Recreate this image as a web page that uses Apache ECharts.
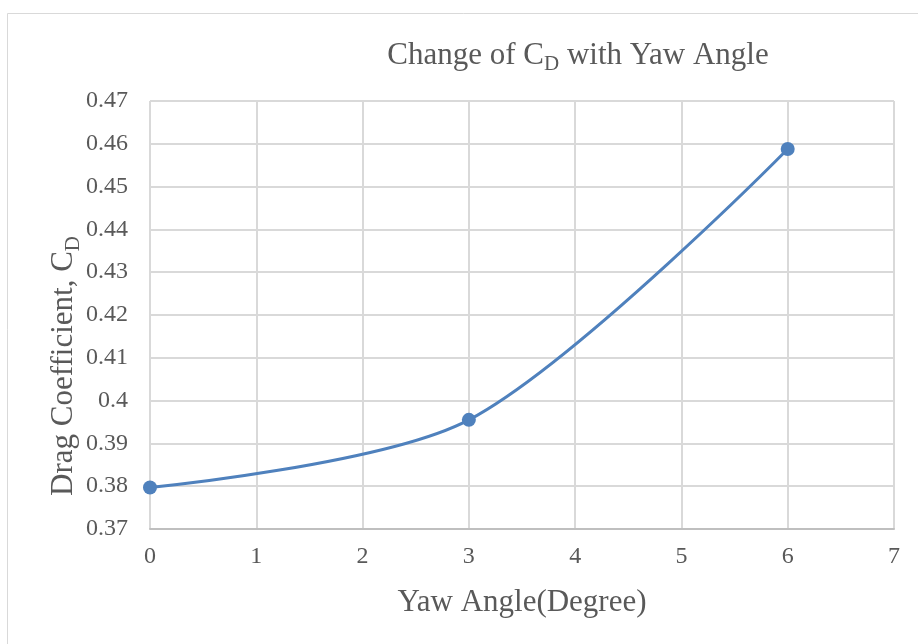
<!DOCTYPE html>
<html>
<head>
<meta charset="utf-8">
<style>
  html, body { margin: 0; padding: 0; background: #ffffff; }
  #chart { width: 918px; height: 644px; }
</style>
<script src="https://cdn.jsdelivr.net/npm/echarts@6/dist/echarts.min.js"></script>
</head>
<body>
<div id="chart"></div>
<script>
// Yaw angle (degrees) and the measured drag coefficient at each angle
const yawAngles = [0, 3, 6];
const dragCoefficients = [0.3797, 0.3955, 0.4588];

// Axis ranges and tick steps
const xTicks = { min: 0, max: 7, step: 1 };
const yTicks = { min: 0.37, max: 0.47, step: 0.01 };

const textColor = '#595959';
const serif = '"Liberation Serif", "Times New Roman", serif';
const lineColor = '#4f81bd';

const chart = echarts.init(document.getElementById('chart'), null, { renderer: 'canvas' });

const subStyle = { fontFamily: serif, fontSize: 21, color: textColor, verticalAlign: 'bottom', padding: [18, 0, 0, 0] };

chart.setOption({
  backgroundColor: '#ffffff',
  animation: false,
  graphic: [{
    type: 'rect',
    left: 5, top: 11,
    shape: { width: 912, height: 632 },
    style: { fill: 'none', stroke: '#d9d9d9', lineWidth: 1 },
    silent: true
  }, {
    // vertical axis title, rotated to read bottom-to-top
    type: 'text',
    x: 64, y: 366,
    rotation: Math.PI / 2,
    style: {
      text: '{m|Drag Coefficient, C}{sub|D}',
      align: 'center',
      verticalAlign: 'middle',
      rich: {
        m: { fontFamily: serif, fontSize: 31, fill: textColor },
        sub: { fontFamily: serif, fontSize: 21, fill: textColor, verticalAlign: 'bottom', padding: [18, 0, 0, 0] }
      }
    },
    silent: true
  }],
  title: {
    text: 'Change of C{sub|D} with Yaw Angle',
    left: 573, top: 31,
    textAlign: 'center',
    textStyle: {
      fontFamily: serif, fontSize: 31, fontWeight: 'normal', color: textColor,
      rich: { sub: subStyle }
    }
  },
  grid: { left: 150, right: 24, top: 101, bottom: 115 },
  xAxis: {
    type: 'value',
    min: xTicks.min, max: xTicks.max, interval: xTicks.step,
    name: 'Yaw Angle(Degree)',
    nameLocation: 'middle',
    nameGap: 58,
    nameTextStyle: { fontFamily: serif, fontSize: 31, color: textColor },
    axisLine: { show: true, lineStyle: { color: '#bfbfbf', width: 2 } },
    axisTick: { show: false },
    splitLine: { show: true, lineStyle: { color: '#d9d9d9', width: 2 } },
    axisLabel: { fontFamily: serif, fontSize: 24, color: textColor, margin: 16 }
  },
  yAxis: {
    type: 'value',
    min: yTicks.min, max: yTicks.max, interval: yTicks.step,
    axisLine: { show: false },
    axisTick: { show: false },
    splitLine: { show: true, lineStyle: { color: '#d9d9d9', width: 2 } },
    axisLabel: {
      fontFamily: serif, fontSize: 24, color: textColor, margin: 22,
      formatter: v => String(parseFloat(v.toFixed(2)))
    }
  },
  series: [{
    type: 'line',
    data: yawAngles.map((x, i) => [x, dragCoefficients[i]]),
    smooth: 0.3,
    symbol: 'circle',
    symbolSize: 14,
    lineStyle: { color: lineColor, width: 3 },
    itemStyle: { color: lineColor }
  }]
});
</script>
</body>
</html>
